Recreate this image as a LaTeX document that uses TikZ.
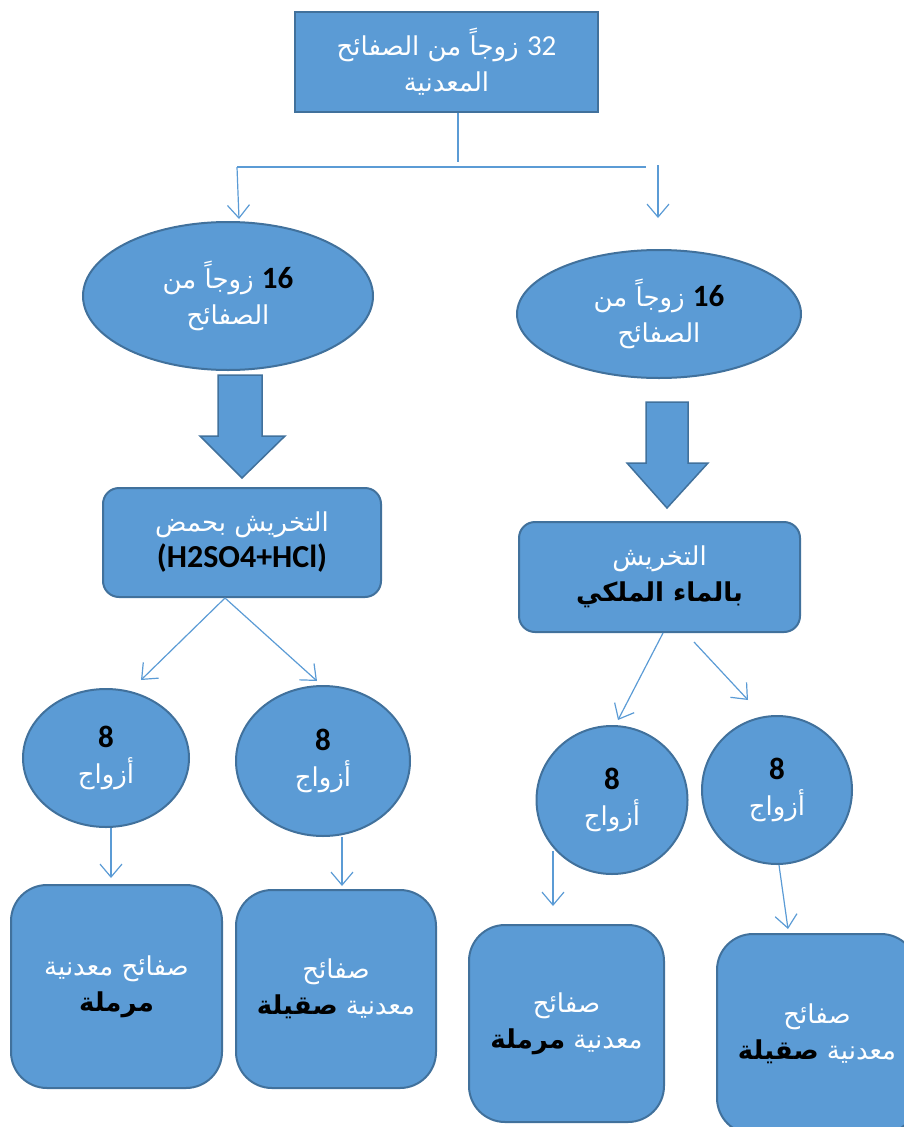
\documentclass[tikz,border=0pt]{standalone}
\usepackage{fontspec}
\setmainfont{Carlito}
\newfontfamily\arabicfont[Script=Arabic]{DejaVu Sans}
\TeXXeTstate=1
\usetikzlibrary{arrows.meta,shapes.geometric,positioning}
\definecolor{boxblue}{HTML}{5B9BD5}
\definecolor{rimblue}{HTML}{41719C}
\newcommand{\ar}[1]{\beginR #1\endR}
\newcommand{\num}[1]{{\color{black}\rmfamily\bfseries\fontsize{31}{36}\selectfont #1}}
\newcommand{\boldar}[1]{{\color{black}\bfseries\beginR #1\endR}}
\tikzset{
    box/.style={rectangle, draw=rimblue, fill=boxblue, line width=2pt,
                text=white, align=center, inner sep=0pt,
                font=\arabicfont\fontsize{26}{36}\selectfont},
    roundbox/.style={box, rounded corners=16pt},
    bigbox/.style={box, rounded corners=36pt},
    oval/.style={box, ellipse},
    fatarrow/.style={draw=rimblue, fill=boxblue, line width=1.5pt},
    pil/.style={-{Straight Barb[length=13pt,width=22pt]}, draw=boxblue, line width=1.2pt},
    stem/.style={draw=boxblue, line width=1.2pt}}

\begin{document}
\begin{tikzpicture}[x=1pt, y=-1pt]
    \useasboundingbox (0,0) rectangle (904,1127);
    \clip (0,0) rectangle (904,1127);

    % top level
    \node[box, minimum width=303pt, minimum height=100pt] (plates) at (446.5,62)
        {\ar{\beginL{\rmfamily\fontsize{29}{36}\selectfont 32}\endL{} زوجاً من الصفائح}\\\ar{المعدنية}};

    % two halves
    \node[oval, minimum width=290pt, minimum height=148pt] (halfl) at (228,296)
        {\ar{زوجاً من} \num{16}\\\ar{الصفائح}};
    \node[oval, minimum width=284pt, minimum height=128pt] (halfr) at (659,314)
        {\ar{زوجاً من} \num{16}\\\ar{الصفائح}};

    % etching
    \node[roundbox, minimum width=278pt, minimum height=109pt] (acid) at (242,542.5)
        {\ar{التخريش بحمض}\\\num{\fontsize{32}{36}\selectfont (H2SO4+HCl)}};
    \node[roundbox, minimum width=281pt, minimum height=110pt] (regia) at (659.5,577)
        {\ar{التخريش}\\\boldar{بالماء الملكي}};

    % pairs
    \node[oval, minimum width=166pt, minimum height=138pt] (pairsa) at (106,758)
        {\num{8}\\\ar{أزواج}};
    \node[oval, minimum width=174pt, minimum height=150pt] (pairsb) at (323,761)
        {\num{8}\\\ar{أزواج}};
    \node[oval, minimum width=151pt, minimum height=148pt] (pairsc) at (612,800)
        {\num{8}\\\ar{أزواج}};
    \node[oval, minimum width=150pt, minimum height=148pt] (pairsd) at (777,790)
        {\num{8}\\\ar{أزواج}};

    % results
    \node[bigbox, minimum width=211pt, minimum height=203pt] (sanda) at (116.5,986.5)
        {\ar{صفائح معدنية}\\\boldar{مرملة}};
    \node[bigbox, minimum width=200pt, minimum height=198pt] (polisha) at (336,989)
        {\ar{صفائح}\\\boldar{صقيلة} \ar{معدنية}};
    \node[bigbox, minimum width=195pt, minimum height=197pt] (sandb) at (566.5,1023.5)
        {\ar{صفائح}\\\boldar{مرملة} \ar{معدنية}};
    \node[bigbox, minimum width=200pt, minimum height=200pt] (polishb) at (817,1034)
        {\ar{صفائح}\\\boldar{صقيلة} \ar{معدنية}};

    % splitting lines
    \coordinate (forkl) at (237,167);
    \coordinate (forkr) at (646,167);
    \draw[stem] ([xshift=11.5pt]plates.south) -- ++(0,49);
    \draw[stem] (forkl) -- (forkr);
    \draw[pil] (forkl) -- ([xshift=11pt,yshift=2pt]halfl.north);
    \draw[pil] ([xshift=-1pt,yshift=84pt]halfr.north) -- ([xshift=-1pt,yshift=31pt]halfr.north);

    % fat arrows
    \draw[fatarrow] (218,375) -- (262,375) -- (262,436) -- (285,436) -- (242,478)
        -- (200,436) -- (218,436) -- cycle;
    \draw[fatarrow] (646,402) -- (688,402) -- (688,463) -- (708,463) -- (667,508)
        -- (627,463) -- (646,463) -- cycle;

    \draw[pil] ([xshift=-17pt]acid.south) -- ([xshift=35pt,yshift=8pt]pairsa.north);
    \draw[pil] ([xshift=-17pt]acid.south) -- ([xshift=-6pt,yshift=4pt]pairsb.north);
    \draw[pil] ([xshift=3.5pt]regia.south) -- ([xshift=6pt,yshift=5pt]pairsc.north);
    \draw[pil] ([xshift=34.5pt,yshift=-9pt]regia.south) -- ([xshift=-29pt,yshift=15pt]pairsd.north);

    \draw[pil] ([xshift=5pt]pairsa.south) -- ([xshift=-5.5pt,yshift=6pt]sanda.north);
    \draw[pil] ([xshift=19pt]pairsb.south) -- ([xshift=6pt,yshift=3pt]polisha.north);
    \draw[pil] ([xshift=-59pt,yshift=24pt]pairsc.south) -- ([xshift=-13.5pt,yshift=18pt]sandb.north);
    \draw[pil] ([xshift=2pt]pairsd.south) -- ([xshift=-29pt,yshift=4pt]polishb.north);
\end{tikzpicture}
\end{document}
